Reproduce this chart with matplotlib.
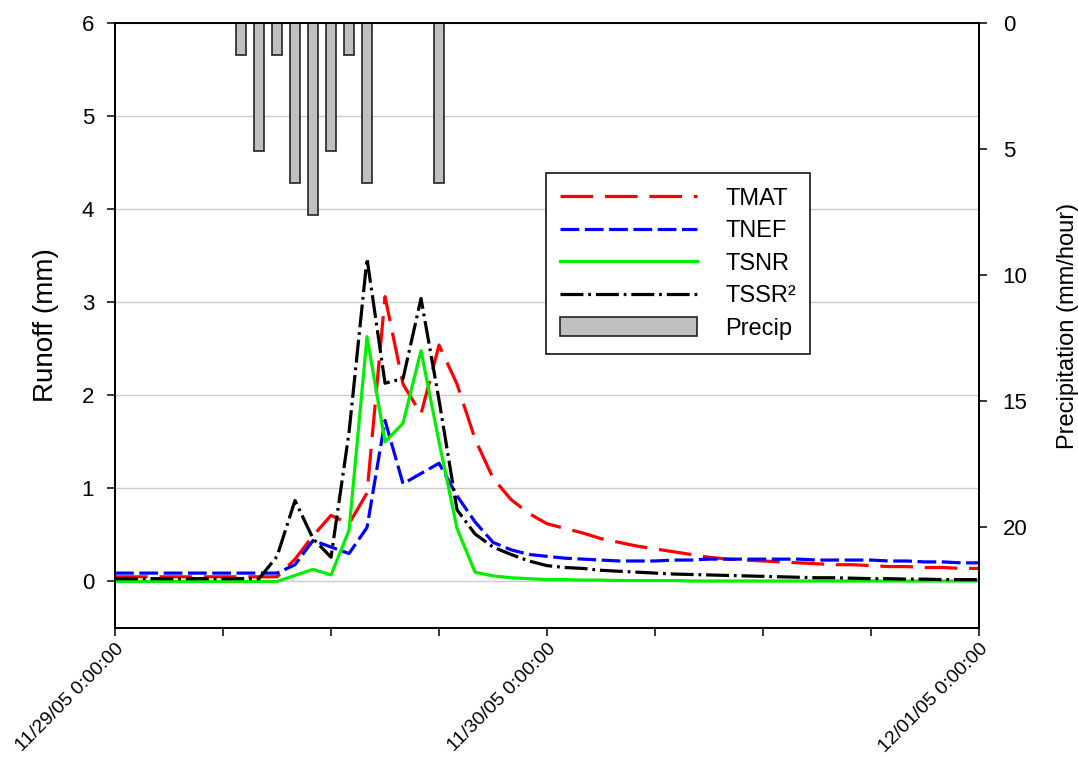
import numpy as np
import matplotlib
matplotlib.use("Agg")
import matplotlib.pyplot as plt
from matplotlib.patches import Patch
from matplotlib.lines import Line2D

plt.rcParams['font.family'] = ['Liberation Sans', 'DejaVu Sans']
plt.rcParams['lines.scale_dashes'] = False

# hours since 11/29/05 0:00:00
hours = list(range(49))

# modelled runoff (mm) for each hour
tmat = [0.05, 0.05, 0.05, 0.05, 0.05, 0.05, 0.05, 0.05, 0.05, 0.05,
        0.24, 0.49, 0.71, 0.62, 0.95, 3.06, 2.12, 1.80, 2.54, 2.12,
        1.53, 1.11, 0.88, 0.73, 0.62, 0.57, 0.52, 0.46, 0.42, 0.38,
        0.35, 0.32, 0.29, 0.26, 0.24, 0.23, 0.22, 0.21, 0.20, 0.19,
        0.18, 0.18, 0.17, 0.16, 0.16, 0.15, 0.15, 0.14, 0.14]
tnef = [0.09, 0.09, 0.09, 0.09, 0.09, 0.09, 0.09, 0.09, 0.09, 0.09,
        0.18, 0.44, 0.37, 0.30, 0.58, 1.73, 1.05, 1.16, 1.27, 0.92,
        0.64, 0.42, 0.34, 0.29, 0.27, 0.25, 0.24, 0.23, 0.22, 0.22,
        0.22, 0.23, 0.23, 0.24, 0.24, 0.24, 0.24, 0.24, 0.24, 0.23,
        0.23, 0.23, 0.23, 0.22, 0.22, 0.21, 0.21, 0.20, 0.20]
tsnr = [0.0, 0.0, 0.0, 0.0, 0.0, 0.0, 0.0, 0.0, 0.0, 0.0,
        0.065, 0.13, 0.07, 0.55, 2.63, 1.50, 1.70, 2.48, 1.50, 0.57,
        0.10, 0.06, 0.04, 0.03, 0.02, 0.02, 0.015, 0.015, 0.01, 0.01,
        0.01, 0.01, 0.005, 0.005, 0.005, 0.005, 0.005, 0.005, 0.005, 0.005,
        0.005, 0.005, 0.005, 0.005, 0.005, 0.005, 0.005, 0.005, 0.005]
tssr2 = [0.03, 0.03, 0.03, 0.03, 0.03, 0.03, 0.03, 0.03, 0.03, 0.27,
         0.87, 0.46, 0.26, 1.60, 3.47, 2.13, 2.18, 3.04, 1.95, 0.77,
         0.51, 0.37, 0.29, 0.22, 0.17, 0.15, 0.14, 0.12, 0.11, 0.10,
         0.09, 0.08, 0.075, 0.07, 0.065, 0.06, 0.055, 0.05, 0.045, 0.04,
         0.04, 0.035, 0.03, 0.03, 0.025, 0.025, 0.02, 0.02, 0.02]

# hourly rainfall (mm/hour)
precip_hours = [7, 8, 9, 10, 11, 12, 13, 14, 18]
precip = [1.27, 5.08, 1.27, 6.35, 7.62, 5.08, 1.27, 6.35, 6.35]

date_ticks = [0, 24, 48]
date_labels = ['11/29/05 0:00:00', '11/30/05 0:00:00', '12/01/05 0:00:00']

red_dash = (23.5, 8.5)
blue_dash = (13.5, 4)
black_dash = (16.5, 3.5, 2, 3.5)

fig = plt.figure(figsize=(10.78, 7.57), dpi=100)
ax = fig.add_axes([0.1067, 0.1704, 0.8015, 0.7992])

ax.plot(hours, tmat, color='#ff0000', lw=2.3, dashes=red_dash, label='TMAT')
ax.plot(hours, tnef, color='#0000ff', lw=2.3, dashes=blue_dash, label='TNEF')
ax.plot(hours, tsnr, color='#00f000', lw=2.3, label='TSNR')
ax.plot(hours, tssr2, color='black', lw=2.3, dashes=black_dash, label='TSSR²')

ax.set_xlim(0, 48)
ax.set_ylim(-0.5, 6)
ax.set_yticks(range(0, 7))
ax.set_xticks(date_ticks)
ax.set_xticklabels(date_labels, rotation=45, ha='right', va='top', rotation_mode='anchor')
ax.set_xticks(range(0, 49, 6), minor=True)
ax.grid(axis='y', color='#cccccc', lw=1)
ax.set_axisbelow(True)
ax.tick_params(axis='both', which='both', direction='out', length=6, width=1.1, labelsize=16, pad=9)
ax.tick_params(axis='x', labelsize=14, pad=3)
ax.set_ylabel('Runoff (mm)', fontsize=20, labelpad=16)

# rainfall bars hang from the top of the right axis
ax2 = ax.twinx()
ax2.bar(precip_hours, precip, width=0.6, color='#c0c0c0', edgecolor='#222222', lw=1.2)
ax2.set_ylim(24, 0)
ax2.set_yticks([0, 5, 10, 15, 20])
ax2.tick_params(axis='y', direction='out', length=6, width=1.1, labelsize=16, pad=11)
ax2.set_ylabel('Precipitation (mm/hour)', fontsize=17, labelpad=21)

for a in (ax, ax2):
    for s in a.spines.values():
        s.set_linewidth(1.3)

handles = [
    Line2D([], [], color='#ff0000', lw=2.3, dashes=red_dash),
    Line2D([], [], color='#0000ff', lw=2.3, dashes=blue_dash),
    Line2D([], [], color='#00f000', lw=2.3),
    Line2D([], [], color='black', lw=2.3, dashes=black_dash),
    Patch(facecolor='#c0c0c0', edgecolor='#222222', lw=1.2),
]
labels = ['TMAT', 'TNEF', 'TSNR', 'TSSR²', 'Precip']
leg = ax2.legend(handles, labels, loc='upper left', bbox_to_anchor=(0.4988, 0.752),
                 borderaxespad=0, fontsize=17, handlelength=5.8, handleheight=0.85,
                 handletextpad=1.2, labelspacing=0.42, borderpad=0.6,
                 fancybox=False, framealpha=1, edgecolor='black')
leg.get_frame().set_linewidth(1.1)

fig.savefig('out.png', dpi=100)
